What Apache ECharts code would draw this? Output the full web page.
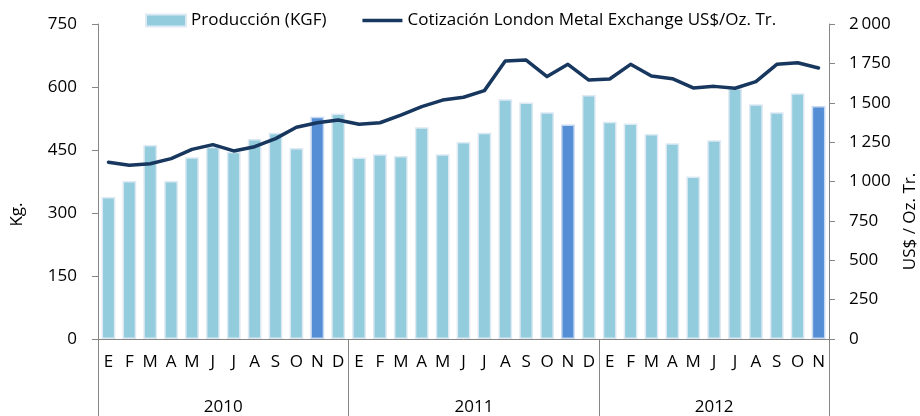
<!DOCTYPE html>
<html>
<head>
<meta charset="utf-8">
<script src="https://cdn.jsdelivr.net/npm/echarts@6/dist/echarts.min.js"></script>
<style>
  html, body { margin: 0; padding: 0; background: #fff; }
  #chart { width: 920px; height: 416px; }
</style>
</head>
<body>
<div id="chart"></div>
<script>
const years = ['2010', '2011', '2012'];
const monthsPerYear = [12, 12, 11];
const months = [
  'E', 'F', 'M', 'A', 'M', 'J', 'J', 'A', 'S', 'O', 'N', 'D',
  'E', 'F', 'M', 'A', 'M', 'J', 'J', 'A', 'S', 'O', 'N', 'D',
  'E', 'F', 'M', 'A', 'M', 'J', 'J', 'A', 'S', 'O', 'N'
];
// Producción (KGF), kg
const produccion = [
  338, 376, 462, 376, 433, 458, 446, 476, 491, 455, 529, 537,
  432, 440, 436, 504, 440, 469, 491, 571, 563, 540, 511, 581,
  517, 513, 488, 466, 387, 473, 597, 559, 540, 585, 555
];
// Cotización LME, US$/Oz. Tr.
const cotizacion = [
  1122, 1103, 1113, 1145, 1204, 1234, 1194, 1221, 1272, 1344, 1373, 1390,
  1363, 1373, 1422, 1475, 1517, 1535, 1577, 1765, 1771, 1666, 1744, 1644,
  1651, 1744, 1670, 1653, 1594, 1604, 1592, 1634, 1744, 1754, 1721
];
const kgTicks = [0, 150, 300, 450, 600, 750];
const usdTicks = [0, 250, 500, 750, 1000, 1250, 1500, 1750, 2000];

const FONT = 'Open Sans';
const FS = 17;
const AXIS_GRAY = '#868686';

// year axis: half-month slots so labels can sit in the middle of each year
const nSlots = months.length * 2 + 1;
const yearSlots = [];
const yearCenters = {};
const yearEdges = { [nSlots - 1]: true };
let start = 0;
years.forEach((y, i) => {
  yearEdges[start * 2] = true;
  yearCenters[start * 2 + monthsPerYear[i]] = y;
  start += monthsPerYear[i];
});
for (let k = 0; k < nSlots; k++) yearSlots.push(yearCenters[k] || '');

const chart = echarts.init(document.getElementById('chart'));

chart.setOption({
  animation: false,
  textStyle: { fontFamily: FONT },
  grid: {
    left: 98,
    right: 91,
    top: 24,
    bottom: 77,
    outerBoundsMode: 'none',
  },
  legend: {
    left: 140,
    top: 7,
    itemWidth: 40,
    itemHeight: 12,
    itemGap: 36,
    textStyle: { fontSize: FS, color: '#000', fontFamily: FONT },
    data: [
      { name: 'Producción (KGF)', icon: 'rect' },
      // thin bar icon so the legend shows a plain line without a marker
      { name: 'Cotización London Metal Exchange US$/Oz. Tr.', icon: 'path://M0,0H80V7H0Z' },
    ],
  },
  xAxis: [{
    type: 'category',
    data: months,
    position: 'bottom',
    axisLine: { lineStyle: { color: AXIS_GRAY } },
    axisTick: {
      interval: 0,
      length: 39,
      lineStyle: { color: AXIS_GRAY },
    },
    axisLabel: {
      interval: 0,
      margin: 15,
      fontSize: FS,
      color: '#000',
    },
  }, {
    type: 'category',
    data: yearSlots,
    position: 'bottom',
    boundaryGap: false,
    axisLine: { show: false },
    axisTick: {
      interval: (i) => !!yearEdges[i],
      length: 80,
      lineStyle: { color: AXIS_GRAY },
    },
    axisLabel: {
      interval: (i) => !!yearCenters[i],
      margin: 60,
      fontSize: FS,
      color: '#000',
    },
  }],
  yAxis: [{
    type: 'value',
    min: kgTicks[0],
    max: kgTicks[kgTicks.length - 1],
    interval: kgTicks[1] - kgTicks[0],
    name: 'Kg.',
    nameLocation: 'middle',
    nameRotate: 90,
    nameGap: 72,
    nameTextStyle: { fontSize: FS, color: '#000', padding: [0, 66, 0, 0] },
    axisLine: { show: true, lineStyle: { color: AXIS_GRAY } },
    axisTick: { show: true, length: 6, lineStyle: { color: AXIS_GRAY } },
    splitLine: { show: false },
    axisLabel: { margin: 21, fontSize: FS, color: '#000' },
  }, {
    type: 'value',
    position: 'right',
    min: usdTicks[0],
    max: usdTicks[usdTicks.length - 1],
    interval: usdTicks[1] - usdTicks[0],
    name: 'US$ / Oz. Tr.',
    nameLocation: 'middle',
    nameRotate: 90,
    nameGap: 62,
    nameTextStyle: { fontSize: FS, color: '#000', padding: [0, 80, 0, 0] },
    axisLine: { show: true, lineStyle: { color: AXIS_GRAY } },
    axisTick: { show: true, length: 6, lineStyle: { color: AXIS_GRAY } },
    splitLine: { show: false },
    axisLabel: {
      margin: 20,
      fontSize: FS,
      color: '#000',
      formatter: (v) => String(v).replace(/\B(?=(\d{3})+(?!\d))/g, '\u2009'),
    },
  }],
  series: [{
    name: 'Producción (KGF)',
    type: 'bar',
    yAxisIndex: 0,
    barCategoryGap: '34%',
    itemStyle: {
      color: '#93CDDD',
      borderColor: '#dde9f3',
      borderWidth: 1.5,
    },
    data: produccion.map((v, i) => months[i] === 'N'
      ? { value: v, itemStyle: { color: '#558ED5', borderColor: '#c6d9f1' } }
      : v),
  }, {
    name: 'Cotización London Metal Exchange US$/Oz. Tr.',
    type: 'line',
    yAxisIndex: 1,
    symbol: 'none',
    lineStyle: { color: '#17375E', width: 3.5, cap: 'round', join: 'round' },
    itemStyle: { color: '#17375E' },
    data: cotizacion,
    z: 3,
  }],
});
</script>
</body>
</html>
